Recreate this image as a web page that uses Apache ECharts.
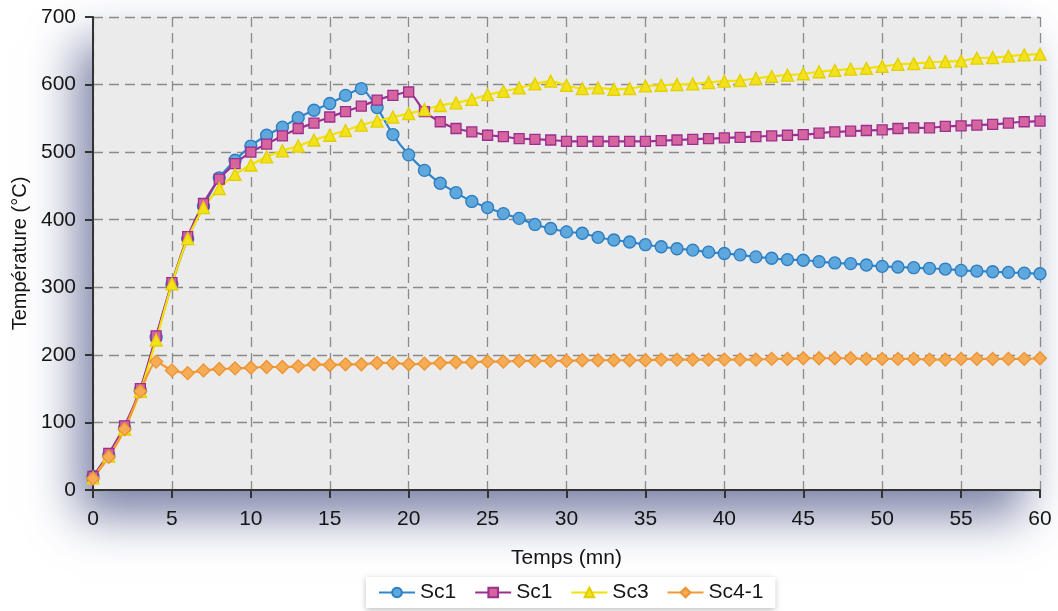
<!DOCTYPE html>
<html>
<head>
<meta charset="utf-8">
<script src="https://cdn.jsdelivr.net/npm/echarts@6/dist/echarts.min.js"></script>
<style>
html,body{margin:0;padding:0;background:#fff;}
#chart{width:1058px;height:611px;}
</style>
</head>
<body>
<div id="chart"></div>
<script>
var minutes = [0,1,2,3,4,5,6,7,8,9,10,11,12,13,14,15,16,17,18,19,20,21,22,23,24,25,26,27,28,29,30,31,32,33,34,35,36,37,38,39,40,41,42,43,44,45,46,47,48,49,50,51,52,53,54,55,56,57,58,59,60];
var seriesNames = ['Sc1','Sc1','Sc3','Sc4-1'];
var sc1a = [20,52,92,148,226,305,372,420,462,488,509,525,537,551,562,572,584,594,566,526,496,473,454,440,427,418,409,402,393,387,382,380,374,370,367,363,360,357,355,352,350,348,345,343,341,340,338,336,335,333,331,330,329,328,327,325,324,323,322,321,320];
var sc1b = [20,54,95,150,228,307,375,424,460,483,500,512,524,535,543,552,560,568,577,584,589,560,545,535,530,525,523,520,519,518,516,516,516,516,516,516,517,518,519,520,521,522,523,524,525,526,528,530,531,532,533,535,536,536,538,539,540,541,543,545,546];
var sc3 = [18,50,90,146,222,305,372,418,446,467,481,493,502,509,518,525,532,540,546,552,557,563,569,573,578,585,590,595,601,605,599,594,595,593,594,598,599,600,601,603,605,606,609,612,614,616,619,621,623,624,627,630,631,633,634,635,639,640,642,644,645];
var sc41 = [17,49,90,146,190,177,173,177,179,180,181,182,182,183,186,185,186,186,188,188,186,187,188,189,189,190,190,191,191,191,191,192,192,192,192,192,193,193,193,193,193,193,193,194,194,195,195,195,195,194,194,194,194,193,193,194,194,194,194,194,195];
var xTicks = {min:0, max:60, step:5};
var yTicks = {min:0, max:700, step:100};

function pairs(vals){ return minutes.map(function(m,i){ return [m, vals[i]]; }); }

var chart = echarts.init(document.getElementById('chart'), null, {renderer:'canvas'});
var FONT = '"Liberation Sans", Arial, Helvetica, sans-serif';
var TXT = '#151515';

// unique internal keys so the two "Sc1" series get separate legend entries
var keys = seriesNames.map(function(n, i){ return n + '#' + i; });

function mk(i, vals, line, fill, border, symbol, size){
  return {
    name: keys[i], type: 'line', data: pairs(vals), smooth: 0.2,
    symbol: symbol, symbolSize: size, showSymbol: true,
    lineStyle: {color: line, width: 2.2},
    itemStyle: {color: fill, borderColor: border, borderWidth: 1.3},
    emphasis: {disabled: true}
  };
}

var option = {
  animation: false,
  backgroundColor: '#ffffff',
  grid: {
    left: 93, right: 18, top: 17, bottom: 121,
    show: true, backgroundColor: '#ebebeb', borderWidth: 0,
    shadowBlur: 45, shadowColor: 'rgba(100,108,150,0.85)', shadowOffsetX: -16, shadowOffsetY: 26
  },
  legend: {
    data: keys,
    formatter: function(n){ return n.split('#')[0]; },
    bottom: 3, left: 366,
    itemWidth: 36, itemHeight: 12, itemGap: 18,
    padding: [5, 12, 5, 12],
    backgroundColor: '#ffffff',
    shadowBlur: 6, shadowColor: 'rgba(0,0,0,0.25)', shadowOffsetY: 2,
    textStyle: {fontFamily: FONT, fontSize: 21, color: TXT}
  },
  xAxis: {
    type: 'value', min: xTicks.min, max: xTicks.max, interval: xTicks.step,
    name: 'Temps (mn)', nameLocation: 'middle', nameGap: 58,
    nameTextStyle: {fontFamily: FONT, fontSize: 21, color: TXT},
    axisLine: {show: true, onZero: false, lineStyle: {color: '#333', width: 2}},
    axisTick: {show: true, inside: false, length: 8, lineStyle: {color: '#333', width: 2}},
    axisLabel: {fontFamily: FONT, fontSize: 21, color: TXT, margin: 19},
    splitLine: {show: true, lineStyle: {color: '#8a8a8a', width: 1.3, type: [10, 6]}}
  },
  yAxis: {
    type: 'value', min: yTicks.min, max: yTicks.max, interval: yTicks.step,
    name: 'Température (°C)', nameLocation: 'middle', nameGap: 61,
    nameTextStyle: {fontFamily: FONT, fontSize: 20, color: TXT},
    axisLine: {show: true, lineStyle: {color: '#333', width: 2}},
    axisTick: {show: true, inside: false, length: 8, lineStyle: {color: '#333', width: 2}},
    axisLabel: {fontFamily: FONT, fontSize: 21, color: TXT, margin: 17},
    splitLine: {show: true, lineStyle: {color: '#8a8a8a', width: 1.3, type: [10, 6]}}
  },
  series: [
    mk(0, sc1a, '#2f86cc', '#5ea8de', '#2b7cc0', 'circle', 12),
    mk(1, sc1b, '#9b2f93', '#d5649f', '#9a2f8e', 'rect', 10),
    mk(2, sc3, '#f3e100', '#f2e21c', '#e3cf00', 'triangle', 12),
    mk(3, sc41, '#f29a35', '#f6ab55', '#ec9330', 'diamond', 13)
  ]
};
chart.setOption(option);
</script>
</body>
</html>
